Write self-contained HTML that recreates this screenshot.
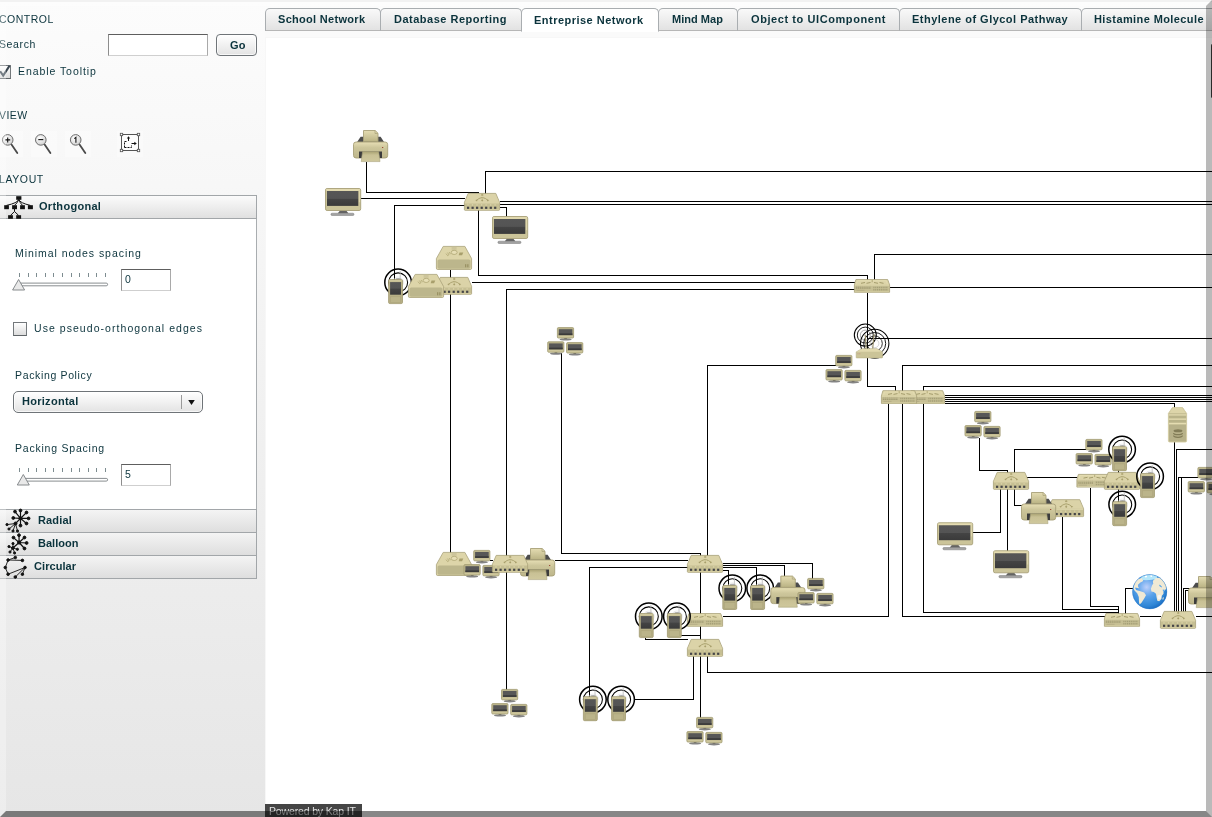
<!DOCTYPE html>
<html><head><meta charset="utf-8"><title>Kap IT Diagrammer</title>
<style>
*{box-sizing:border-box}
html,body{margin:0;padding:0}
body{width:1212px;height:817px;overflow:hidden;position:relative;font-family:"Liberation Sans",sans-serif;font-size:11px;color:#0b333c;background:linear-gradient(#fcfcfc,#e6e6e6)}
.abs{position:absolute}
.t{will-change:transform;position:absolute;white-space:nowrap;line-height:12px;font-size:10.5px;letter-spacing:.9px;color:#0b333c}
.b{font-weight:bold;letter-spacing:.1px;font-size:11px}
#topstrip{left:0;top:0;width:1212px;height:2px;background:#eee}
.inp{position:absolute;background:#fff;border:1px solid #9a9a9a;border-top-color:#5e5e5e;border-bottom-color:#cfcfcf;border-left-color:#8d8d8d;border-right-color:#a9a9a9}
.btn{position:absolute;border:1px solid #6f7478;border-radius:4px;background:linear-gradient(#fff,#e3e3e3);box-shadow:inset 0 0 0 1px rgba(255,255,255,.7)}
.cb{position:absolute;width:14px;height:14px;border:1px solid #73787b;border-bottom-color:#5f6467;background:linear-gradient(#fff,#dcdcdc)}
.hdr{position:absolute;left:-1px;width:258px;height:24px;border:1px solid #a2a6a9;background:linear-gradient(#fbfbfb,#e0e0e0)}
.tab{position:absolute;top:8px;height:23px;border:1px solid #a9adb0;border-bottom-color:#b6b6b6;border-radius:5px 5px 0 0;background:linear-gradient(#f9f9f9,#e2e2e2)}
.tab.sel{background:#fff;border-bottom-color:#fff;height:24px}
</style></head><body>
<div id="topstrip" class="abs"></div>
<!-- sidebar -->
<div class="t" id="tx_control" style="left:-1.10px;top:13.36px;letter-spacing:0.50px;">CONTROL</div>
<div class="t" id="tx_search" style="left:-0.60px;top:38.36px;letter-spacing:0.62px;">Search</div>
<div class="inp" style="left:108px;top:34px;width:100px;height:22px"></div>
<div class="btn" style="left:216px;top:34px;width:41px;height:22px"></div>
<div class="t b" id="tx_go" style="left:230px;top:39px">Go</div>
<div class="cb" style="left:-3px;top:65px"></div>
<svg class="abs" style="left:-3px;top:63px" width="16" height="16" viewBox="0 0 16 16"><path d="M3.2 8.2 L6.2 12.6 L12.6 2.6" fill="none" stroke="#3a4650" stroke-width="2"/></svg>
<div class="t" id="tx_enable" style="left:17.80px;top:65.36px;letter-spacing:0.93px;">Enable Tooltip</div>
<div class="t" id="tx_view" style="left:-1.10px;top:109.36px;letter-spacing:0.45px;">VIEW</div>
<div class="t" id="tx_layout" style="left:-0.60px;top:173.36px;letter-spacing:0.60px;">LAYOUT</div>
<!-- view icons --><div class="abs icobg" style="left:-4px;top:131px;width:27px;height:26px;background:rgba(255,255,255,.35)"></div><div class="abs icobg" style="left:31px;top:131px;width:26px;height:26px;background:rgba(255,255,255,.35)"></div><div class="abs icobg" style="left:65px;top:131px;width:26px;height:26px;background:rgba(255,255,255,.35)"></div><div class="abs icobg" style="left:117px;top:131px;width:26px;height:26px;background:rgba(255,255,255,.35)"></div>
<svg class="abs" style="left:0;top:128px" width="150" height="32" viewBox="0 128 150 32">
 <defs><radialGradient id="lens" cx=".4" cy=".35" r=".7"><stop offset="0" stop-color="#fff"/><stop offset="1" stop-color="#cfcfcf"/></radialGradient></defs>
 <g id="mag"><line x1="11.5" y1="144.5" x2="17.3" y2="153" stroke="#4a4a4a" stroke-width="1.8" stroke-linecap="round"/><circle cx="7.7" cy="139.9" r="5.3" fill="url(#lens)" stroke="#6e6e6e" stroke-width="1"/></g>
 <use href="#mag" x="33.1"/><use href="#mag" x="68"/>
 <path d="M5.2 139.9 H10.2 M7.7 137.4 V142.4" stroke="#111" stroke-width="1.1"/>
 <path d="M38.3 139.6 H43.3" stroke="#111" stroke-width="1.1"/>
 <path d="M74.3 138.6 L75.9 137.3 V142.8" stroke="#111" stroke-width="1.1" fill="none"/>
 <rect x="121.5" y="134.5" width="17" height="16" fill="#fdfdfd" stroke="#555" stroke-width="1"/>
 <g fill="#fff" stroke="#555" stroke-width=".8"><rect x="120.3" y="133.3" width="2.4" height="2.4"/><rect x="137.3" y="133.3" width="2.4" height="2.4"/><rect x="120.3" y="149.3" width="2.4" height="2.4"/><rect x="137.3" y="149.3" width="2.4" height="2.4"/></g>
 <path d="M124.5 147.5 V141.5 H127 M124.5 147.5 H131.5 V145" fill="none" stroke="#111" stroke-width="1" stroke-dasharray="2 1"/>
 <path d="M128.5 141 V137.5 M131.5 143.5 H135" stroke="#111" stroke-width="1"/>
 <path d="M126.8 138.6 L128.5 136.2 L130.2 138.6Z M134.3 141.8 L136.8 143.5 L134.3 145.2Z" fill="#111"/>
</svg>
<!-- accordion -->
<div class="abs" style="left:-1px;top:195px;width:258px;height:384px;background:#fff;border:1px solid #a9adb0"></div>
<div class="hdr" style="top:195px"></div>
<div class="hdr" style="top:509px;background:linear-gradient(#f4f4f4,#dedede)"></div>
<div class="hdr" style="top:532px;background:linear-gradient(#f4f4f4,#dedede)"></div>
<div class="hdr" style="top:555px;background:linear-gradient(#f4f4f4,#dedede)"></div>
<div class="t b" id="tx_ortho" style="left:38.50px;top:200.19px;letter-spacing:0.29px;">Orthogonal</div>
<div class="t b" id="tx_radial" style="left:38.20px;top:514.19px;letter-spacing:0.14px;">Radial</div>
<div class="t b" id="tx_balloon" style="left:38.20px;top:537.19px;letter-spacing:0.03px;">Balloon</div>
<div class="t b" id="tx_circular" style="left:34.30px;top:560.19px;letter-spacing:0.07px;">Circular</div>
<div class="t" id="tx_minimal" style="left:14.90px;top:247.36px;letter-spacing:0.95px;">Minimal nodes spacing</div>
<div class="inp" style="left:121px;top:269px;width:50px;height:22px"></div>
<div class="t" id="tx_zero" style="left:124.90px;top:273.36px;letter-spacing:0.00px;">0</div>
<div class="cb" style="left:13px;top:322px"></div>
<div class="t" id="tx_pseudo" style="left:33.70px;top:322.36px;letter-spacing:1.05px;">Use pseudo-orthogonal edges</div>
<div class="t" id="tx_policy" style="left:14.90px;top:369.36px;letter-spacing:0.65px;">Packing Policy</div>
<div class="btn" style="left:13px;top:391px;width:190px;height:22px;border-radius:5px"></div>
<div class="abs" style="left:181px;top:395px;width:1px;height:14px;background:#9a9a9a"></div>
<svg class="abs" style="left:187px;top:399px" width="9" height="7" viewBox="0 0 9 7"><path d="M1.2 1 H7.8 L4.5 6Z" fill="#111"/></svg>
<div class="t b" id="tx_horiz" style="left:22.30px;top:395.19px;letter-spacing:0.28px;">Horizontal</div>
<div class="t" id="tx_pspacing" style="left:15.10px;top:442.36px;letter-spacing:0.78px;">Packing Spacing</div>
<div class="inp" style="left:121px;top:464px;width:50px;height:22px"></div>
<div class="t" id="tx_five" style="left:124.70px;top:468.36px;letter-spacing:0.00px;">5</div>
<!-- sliders -->
<svg class="abs" style="left:0;top:265px" width="120" height="230" viewBox="0 265 120 230">
 <g stroke="#7d8c90" stroke-width="1" shape-rendering="crispEdges">
  <path d="M19.5 273V277M28.1 273V277M36.7 273V277M45.3 273V277M53.9 273V277M62.5 273V277M71.1 273V277M79.7 273V277M88.3 273V277M96.9 273V277M105.5 273V277"/>
  <path d="M19.5 468V472M28.1 468V472M36.7 468V472M45.3 468V472M53.9 468V472M62.5 468V472M71.1 468V472M79.7 468V472M88.3 468V472M96.9 468V472M105.5 468V472"/>
 </g>
 <rect x="19" y="283.1" width="88.6" height="2.7" rx="1.35" fill="#fff" stroke="#6a7073" stroke-width=".8"/>
 <rect x="24" y="478.4" width="83.6" height="2.7" rx="1.35" fill="#fff" stroke="#6a7073" stroke-width=".8"/>
 <path d="M18.6 279.5 L24.6 290 H12.6Z" fill="#e9e9e9" stroke="#7a7f82" stroke-width=".9" stroke-linejoin="round"/>
 <path d="M23.3 474.5 L29.3 485 H17.3Z" fill="#e9e9e9" stroke="#7a7f82" stroke-width=".9" stroke-linejoin="round"/>
</svg>
<svg class="abs" style="left:0;top:194px;z-index:3" width="40" height="390" viewBox="0 194 40 390">
 <g fill="#111" stroke="none">
  <rect x="16.2" y="196.2" width="5.2" height="3.6"/>
  <rect x="4.2" y="205.2" width="4.7" height="4"/><rect x="12.1" y="205.2" width="4.9" height="4"/><rect x="20.1" y="205.2" width="4.8" height="4"/><rect x="27.9" y="205.2" width="5" height="4"/>
  <rect x="8.1" y="215.2" width="4.8" height="3.6"/><rect x="16.2" y="215.2" width="4.9" height="3.6"/>
 </g>
 <g fill="none" stroke="#111" stroke-width="1">
  <path d="M18.8 199.5 Q17.5 203 6.5 205.4 M18.8 199.5 Q17.5 203 14.5 205.4 M18.8 199.5 Q20 203 22.5 205.4 M18.8 199.5 Q20 203 30.4 205.4"/>
  <path d="M14.5 209 V211.5 L10.5 215.4 M14.5 211.5 L18.6 215.4"/>
 </g>
 <!-- radial -->
 <g stroke="#111" stroke-width="1" fill="#111">
  <path d="M20.5 518.4 L20.5 510.5 M20.5 518.4 L26.5 512.5 M20.5 518.4 L28.6 518.4 M20.5 518.4 L26.5 523.5 M20.5 518.4 L20.5 525.6 M20.5 518.4 L15.5 523.5 M20.5 518.4 L13.3 518 M20.5 518.4 L15 511.6" stroke-width="1.2"/>
  <path d="M15.5 523.5 L7 524.6 M15.5 523.5 L9 529 M15.5 523.5 L13 531 M15.5 523.5 L17.5 531" stroke-width=".9"/>
  <circle cx="20.5" cy="510.5" r="1.4"/><circle cx="26.5" cy="512.5" r="1.4"/><circle cx="28.6" cy="518.4" r="1.4"/><circle cx="26.5" cy="523.5" r="1.4"/><circle cx="20.5" cy="525.6" r="1.4"/><circle cx="15.5" cy="523.5" r="1.5"/><circle cx="13.3" cy="518" r="1.4"/><circle cx="15" cy="511.6" r="1.4"/><circle cx="20.5" cy="518.4" r="1.6"/>
  <circle cx="7" cy="524.6" r="1.1"/><circle cx="9" cy="529" r="1.1"/><circle cx="13" cy="531" r="1.1"/><circle cx="17.5" cy="531" r="1.1"/>
 </g>
 <!-- balloon -->
 <g stroke="#111" stroke-width="1" fill="#111">
  <path d="M19.1 542.5 L19 535.2 M19.1 542.5 L24.5 537.5 M19.1 542.5 L26.6 543 M19.1 542.5 L24.5 548.5 M19.1 542.5 L12.9 548 M19.1 542.5 L13.5 537.6" stroke-width="1.2"/>
  <path d="M12.9 548 L9 546.6 M12.9 548 L10 552 M12.9 548 L14.6 553 M12.9 548 L17.4 549.3 M12.9 548 L13 543.6" stroke-width=".9"/>
  <circle cx="19" cy="535.2" r="1.4"/><circle cx="24.5" cy="537.5" r="1.4"/><circle cx="26.6" cy="543" r="1.4"/><circle cx="24.5" cy="548.5" r="1.4"/><circle cx="13.5" cy="537.6" r="1.4"/><circle cx="19.1" cy="542.5" r="1.6"/><circle cx="12.9" cy="548" r="1.4"/>
  <circle cx="9" cy="546.6" r="1.1"/><circle cx="10" cy="552" r="1.1"/><circle cx="14.6" cy="553" r="1.1"/><circle cx="17.4" cy="549.3" r="1.1"/><circle cx="13" cy="543.6" r="1.1"/>
 </g>
 <!-- circular -->
 <g stroke="#111" stroke-width="1" fill="#111">
  <path d="M8.1 560 L15.3 557.5 M8.1 560 L22.4 560.4 M8.1 560 L5.3 567.5 L8.1 574.2 L25 567.5 L15.3 577 M25 567.5 L22.4 574.2" fill="none" stroke-width=".9"/>
  <circle cx="15.3" cy="557.5" r="1.3"/><circle cx="8.1" cy="560" r="1.3"/><circle cx="22.4" cy="560.4" r="1.3"/><circle cx="5.3" cy="567.5" r="1.3"/><circle cx="25" cy="567.5" r="1.3"/><circle cx="8.1" cy="574.2" r="1.3"/><circle cx="22.4" cy="574.2" r="1.3"/><circle cx="15.3" cy="577" r="1.3"/>
 </g>
</svg>
<!-- tabs -->
<div class="abs" style="left:265px;top:31px;width:947px;height:7px;background:#fafafa"></div>
<div class="abs" id="main" style="left:265px;top:37px;width:947px;height:780px;background:#fff;border-left:1px solid #f7f7f7;border-top:1px solid #f7f7f7"></div>
<div class="tab" style="left:265px;width:116px"></div>
<div class="tab" style="left:380px;width:142px"></div>
<div class="tab sel" style="left:521px;width:138px"></div>
<div class="tab" style="left:658px;width:80px"></div>
<div class="tab" style="left:737px;width:163px"></div>
<div class="tab" style="left:899px;width:183px"></div>
<div class="tab" style="left:1081px;width:140px"></div>
<div class="t b" id="tb1" style="left:278.40px;top:13.19px;letter-spacing:0.30px;">School Network</div>
<div class="t b" id="tb2" style="left:394.10px;top:13.19px;letter-spacing:0.50px;">Database Reporting</div>
<div class="t b" id="tb3" style="left:534.40px;top:14.19px;letter-spacing:0.48px;">Entreprise Network</div>
<div class="t b" id="tb4" style="left:671.70px;top:13.19px;letter-spacing:0.03px;">Mind Map</div>
<div class="t b" id="tb5" style="left:751.00px;top:13.19px;letter-spacing:0.58px;">Object to UIComponent</div>
<div class="t b" id="tb6" style="left:912.40px;top:13.19px;letter-spacing:0.48px;">Ethylene of Glycol Pathway</div>
<div class="t b" id="tb7" style="left:1094.40px;top:13.19px;letter-spacing:0.40px;">Histamine Molecule</div>
<!-- diagram -->
<svg class="abs" style="left:266px;top:38px" width="946" height="779" viewBox="266 38 946 779">

<defs>
 <linearGradient id="gB" x1="0" y1="0" x2="0" y2="1"><stop offset="0" stop-color="#e7dfb5"/><stop offset=".35" stop-color="#cdc69b"/><stop offset="1" stop-color="#bdb68b"/></linearGradient>
 <linearGradient id="gP" x1="0" y1="0" x2="0" y2="1"><stop offset="0" stop-color="#e4dcb2"/><stop offset="1" stop-color="#b9b283"/></linearGradient>
 <linearGradient id="gP2" x1="0" y1="0" x2="0" y2="1"><stop offset="0" stop-color="#a9a272"/><stop offset=".35" stop-color="#c9c195"/><stop offset="1" stop-color="#cfc89d"/></linearGradient>
 <linearGradient id="gS" x1="0" y1="0" x2="0" y2="1"><stop offset="0" stop-color="#565656"/><stop offset=".5" stop-color="#545454"/><stop offset=".52" stop-color="#444"/><stop offset="1" stop-color="#3a3a3a"/></linearGradient>
 <radialGradient id="gG" cx=".41" cy=".37" r=".68"><stop offset="0" stop-color="#bdd0fb"/><stop offset=".4" stop-color="#5aa2ea"/><stop offset=".8" stop-color="#2f86d6"/><stop offset="1" stop-color="#1666bd"/></radialGradient>
 <clipPath id="gc"><circle cx="17.5" cy="17.5" r="17.3"/></clipPath>

 <g id="mon">
  <rect x="5.9" y="25.2" width="23.1" height="2.3" rx="1.1" fill="#a2a2a2" stroke="#7a7a7a" stroke-width=".5"/>
  <path d="M12.8 25.2 L15 22.4 H21.2 L23.4 25.2Z" fill="#636363"/>
  <rect x="0.5" y="0.5" width="35.2" height="22" rx="1.6" fill="#cbc499" stroke="#a8a078" stroke-width=".9"/>
  <rect x="1.2" y="1.1" width="33.8" height="1.7" fill="#e5dcb2"/>
  <rect x="33.8" y="1.2" width="1.3" height="13" fill="#ded6ab"/>
  <rect x="2" y="3" width="31.3" height="14.9" fill="url(#gS)"/>
 </g>

 <g id="prn">
  <path d="M3.8 12.6 L7.6 6.8 H27.6 L31.4 12.6Z" fill="#4c4c4c"/>
  <path d="M10.5 0.5 H22.2 L25 3.3 V11.8 H10.5Z" fill="url(#gP)" stroke="#a8a078" stroke-width=".9"/>
  <path d="M22 0.8 V3.5 H24.8" fill="none" stroke="#a8a078" stroke-width=".7"/>
  <rect x="0.5" y="12" width="34.2" height="16" rx="2.6" fill="url(#gB)" stroke="#a8a078" stroke-width=".9"/>
  <path d="M6 21.5 H29 V28 H6Z" fill="#3c3c3c"/>
  <path d="M9.6 21.5 H25.7 L27 31.6 H8.2Z" fill="url(#gP2)" stroke="#aaa27a" stroke-width=".6"/>
  <rect x="29" y="17" width="1.3" height="1" fill="#9c4a3a"/><rect x="30.8" y="17" width="1.6" height="1" fill="#d6d3a4"/>
 </g>

 <g id="sw8">
  <path d="M0.4 9.4 L4.2 0.4 H31.8 L35.6 9.4 V16.6 Q35.6 17.3 34.9 17.3 H1.1 Q0.4 17.3 0.4 16.6Z" fill="#c6bf93" stroke="#aaa27a" stroke-width=".8"/>
  <path d="M0.9 9.3 L4.5 0.9 H31.5 L35.1 9.3Z" fill="#dbd3a8"/>
  <rect x="0.9" y="9.3" width="34.2" height="1.1" fill="#e2daaf"/>
  <rect x="0.9" y="16.2" width="34.2" height=".8" fill="#d9d1a6"/>
  <g fill="#454548"><rect x="3" y="13.7" width="2.2" height="2.2"/><rect x="7.5" y="13.7" width="2.2" height="2.2"/><rect x="12" y="13.7" width="2.2" height="2.2"/><rect x="16.6" y="13.7" width="2.2" height="2.2"/><rect x="21.1" y="13.7" width="2.2" height="2.2"/><rect x="25.7" y="13.7" width="2.2" height="2.2"/><rect x="30.1" y="13.7" width="2.2" height="2.2"/></g>
  <g fill="#dcd4aa"><rect x="3.4" y="11.2" width="1.2" height="1.4"/><rect x="7.9" y="11.2" width="1.2" height="1.4"/><rect x="12.4" y="11.2" width="1.2" height="1.4"/><rect x="17" y="11.2" width="1.2" height="1.4"/><rect x="21.5" y="11.2" width="1.2" height="1.4"/><rect x="26.1" y="11.2" width="1.2" height="1.4"/><rect x="30.5" y="11.2" width="1.2" height="1.4"/></g>
  <path d="M12.2 7.6 Q14.5 5.2 18.2 4.4 Q22 5.2 24.2 7.6 M18.2 0.8 V2.8 M17 2 H19.4" fill="none" stroke="#a89f6c" stroke-width=".9"/><path d="M18.2 4.4 V7" stroke="#bdb583" stroke-width=".8"/>
  <path d="M11.2 7 L13.6 6.6 L13 8.4Z M25.2 7 L22.8 6.6 L23.4 8.4Z M17 7.4 L18.2 8.6 L19.4 7.4 L18.2 6.4Z" fill="#a89f6c"/>
 </g>

 <g id="swf">
  <path d="M0.4 5.6 L1.9 0.4 H33.7 L35.6 5.6 V13.1 H0.4Z" fill="#c6bf94" stroke="#aaa27a" stroke-width=".8"/>
  <path d="M0.9 5.5 L2.3 0.9 H33.3 L35.1 5.5Z" fill="#dcd4a9"/>
  <path d="M2.6 4.9 L3.4 1.6 H32.2 L33.4 4.9" fill="none" stroke="#e8e0b6" stroke-width=".6"/>
  <rect x="0.9" y="5.5" width="34.2" height=".9" fill="#e2daaf"/>
  <rect x="0.9" y="12.2" width="34.2" height=".7" fill="#d9d1a6"/>
  <path d="M1.8 8.9 H17" stroke="#a29c74" stroke-width="1.5" stroke-dasharray="1.4 .5"/>
  <path d="M2 7.2 H16.6" stroke="#b7b088" stroke-width=".8" stroke-dasharray="1.2 .7"/>
  <rect x="2.5" y="10.6" width="8" height="1.1" fill="#b7b088"/>
  <path d="M19.3 8.2 H34 M19.3 10.6 H34" stroke="#a59f77" stroke-width="1.5" stroke-dasharray="1.2 .65"/>
  <path d="M18.2 0.8 V3" stroke="#a89f6c" stroke-width=".8" fill="none"/>
  <path d="M7 4.1 L11 3.3 M12.5 4.1 L16.5 3.3 M20 3.3 L24 4.1 M25.5 3.3 L29.5 4.1" stroke="#9d9564" stroke-width=".9" fill="none"/>
 </g>

 <g id="rtr">
  <path d="M0.4 12.6 L7.2 0.4 H28.9 L35.6 12.6 V22.2 Q35.6 23.5 34.3 23.5 H1.7 Q0.4 23.5 0.4 22.2Z" fill="#ddd5a9" stroke="#aaa27a" stroke-width=".8"/>
  <rect x="1.5" y="13.4" width="33" height="9.3" rx="1.6" fill="#bcb68c"/>
  <rect x="15.6" y="0.8" width="5" height="3" fill="#cdc59b"/>
  <ellipse cx="18.2" cy="6.4" rx="3" ry="2.1" fill="#e6deb5" stroke="#a89f6c" stroke-width=".7"/>
  <path d="M10 7.6 l1.6 2 l1.4 -1 l-1.6 -2 M13 6 l1.6 2.2" stroke="#a89f6c" stroke-width=".7" fill="none"/>
  <path d="M23.5 6.6 h3.8 l-1.2 2.6 h-3.4Z" fill="#a89f6c"/>
  <rect x="29" y="18.2" width="1.3" height="3.1" fill="#9a9264"/><rect x="31.2" y="18.2" width="1.3" height="3.1" fill="#9a9264"/>
 </g>

 <g id="pdaC" fill="none" stroke="#000">
  <circle cx="9.9" cy="3.1" r="13.3" stroke-width="1.5"/>
  <circle cx="9.9" cy="3.1" r="9.5" stroke-width="1.05"/>
 </g>
 <g id="pdaB">
  <line x1="12" y1="-8.6" x2="12" y2="0.2" stroke="#b8b8b8" stroke-width=".8"/>
  <ellipse cx="10.2" cy="-0.4" rx="3" ry="1" fill="#adadad"/>
  <circle cx="9.9" cy="3.1" r="5.4" fill="none" stroke="#d4d4d4" stroke-width=".5"/>
  <rect x="0.4" y="0.3" width="13.9" height="24" rx="1.3" fill="#b7b086" stroke="#a19970" stroke-width=".8"/>
  <rect x="0.9" y="0.9" width="12.9" height="1.4" fill="#d4cca1"/>
  <rect x="1.9" y="2.8" width="10.9" height="12.6" fill="url(#gS)"/>
  <rect x="2.1" y="17.5" width="10.5" height="5.8" fill="#bbb48a" stroke="#a9a178" stroke-width=".5"/>
 </g>

 <g id="pc">
  <ellipse cx="8.6" cy="12.2" rx="6" ry="1.2" fill="#848484"/>
  <rect x="7.3" y="10.6" width="2.6" height="1.2" fill="#666"/>
  <rect x="0.4" y="0.4" width="16.2" height="10.4" rx="1" fill="#bdb68c" stroke="#a09970" stroke-width=".8"/>
  <rect x="1" y="8.4" width="15" height="1.8" fill="#cdc69b"/>
  <rect x="1.8" y="2" width="13.6" height="5.9" fill="#575757"/><rect x="1.8" y="6.2" width="13.6" height="1.7" fill="#3a3a3a"/>
 </g>
 <g id="clu">
  <use href="#pc" x="10" y="0"/><use href="#pc" x="0.3" y="14.2"/><use href="#pc" x="19.2" y="15"/>
 </g>

 <g id="srv">
  <path d="M0.4 6.2 L4.4 0.4 H14.6 L18.6 6.2 V33.6 Q18.6 34.8 17.4 34.8 H1.6 Q0.4 34.8 0.4 33.6Z" fill="#b7b189" stroke="#d5cda3" stroke-width=".9"/>
  <path d="M0.8 6.2 L4.6 0.8 H14.4 L18.2 6.2Z" fill="#ddd5a9"/>
  <rect x="0.9" y="6.2" width="17.2" height="11" fill="#c5be93"/>
  <rect x="0.9" y="7.2" width="17.2" height="1.2" fill="#e5ddb2"/><rect x="0.9" y="11.2" width="17.2" height="1.3" fill="#e5ddb2"/><rect x="0.9" y="15.6" width="17.2" height="1.5" fill="#e5ddb2"/>
  <rect x="0.9" y="8.6" width="17.2" height="2.4" fill="#b9b389"/><rect x="0.9" y="12.8" width="17.2" height="2.4" fill="#b9b389"/>
  <ellipse cx="10" cy="23.6" rx="4.4" ry="1.5" fill="#827c57"/>
  <path d="M5.6 25.8 a4.4 1.7 0 0 0 8.8 0 M5.6 28.4 a4.4 1.7 0 0 0 8.8 0" fill="none" stroke="#827c57" stroke-width="1.2"/>
 </g>

 <g id="glb">
  <circle cx="17.5" cy="17.5" r="17.3" fill="url(#gG)"/>
  <g clip-path="url(#gc)">
   <path d="M8.5 4.6 L10 1.6 Q17.5 -0.6 25 1.8 L24.6 4.6 Q20 6.2 11 5.9Z" fill="#b4e6fa"/>
   <path d="M12.4 2.4 L14 1 L15 2.6 L13.6 3.6Z M18 1.6 L19.4 0.6 L20 2.6 L18.6 2.8Z" fill="#fff"/>
   <g fill="#f0e9d4">
   <path d="M1.7 12 L2.8 8.2 L5.5 5 L9.3 3.9 L11.1 6 L10.3 7.4 L8.2 8.2 L6 10.3 L5.8 12 L6.8 14.1 L4.4 13.6 L2.8 13.6 L3.3 14.6 L3.9 15.7 L8.2 17.1 L12 18.4 L13.8 21.1 L12 24.3 L9.3 28.6 L7.4 30.3 L6.8 28.1 L6.6 22.7 L5 19 L2.3 16.3 L1.2 14.1Z"/>
   <path d="M21.1 6 L23.8 3.9 L28.1 3.3 L31.3 6 L33.5 9.8 L34.6 13.6 L33 15.7 L31.3 17.3 L31.3 19.5 L29.7 21.6 L29.2 24.9 L27 27 L25.1 26.5 L24.3 22.7 L23.8 19.5 L21.6 17.9 L19.2 17.3 L18.7 14.6 L19.8 11.4 L21.1 9.3 L20.6 7.6Z"/>
   <path d="M30.3 23.8 L31.6 22.7 L31.3 25.1 L30.5 25.7Z"/>
   </g>
   <path d="M26.8 10.6 L28 10.8 L29.8 12.6 L29.4 13.2 L27.4 12Z M30.4 15.6 L32.2 15.4 L32.4 17 L31 17.2Z" fill="#5aa6ea"/>
  </g>
  <ellipse cx="27" cy="22.8" rx="1.9" ry="2.3" fill="#f7f6f4" opacity=".9"/>
  <circle cx="17.5" cy="17.5" r="17.1" fill="none" stroke="#2a78c8" stroke-width=".6" opacity=".7"/>
 </g>

 <g id="ap">
  <g fill="none" stroke="#000">
   <circle cx="9.5" cy="-13.2" r="11" stroke-width="1.05"/><circle cx="9.5" cy="-13.2" r="8" stroke-width=".9"/><circle cx="9.5" cy="-13.2" r="5" stroke-width=".6" stroke="#777"/>
   <circle cx="18.9" cy="-4.8" r="14.2" stroke-width="1.05"/><circle cx="18.9" cy="-4.8" r="11" stroke-width=".9"/><circle cx="18.9" cy="-4.8" r="7.6" stroke-width=".8"/><circle cx="18.9" cy="-4.8" r="4.2" stroke-width=".6" stroke="#bbb"/>
  </g>
  <path d="M10.4 0.4 L9.4 -13.6 M16.9 0.4 L18.3 -14.6" stroke="#958d66" stroke-width="1.1" fill="none"/>
  <ellipse cx="19" cy="9.8" rx="4.5" ry=".8" fill="#555"/>
  <path d="M0.4 3.6 L6 0.4 H21.2 L26.7 3.6 V9.2 Q26.7 9.6 26.2 9.6 H0.9 Q0.4 9.6 0.4 9.2Z" fill="#cbc498" stroke="#b5ae86" stroke-width=".6"/>
  <path d="M0.8 3.5 L6.1 0.7 H21.1 L26.3 3.5Z" fill="#e1d9ae"/>
  <rect x="1.7" y="5" width="1" height="1" fill="#c49a84"/><rect x="3.5" y="5" width="1" height="1" fill="#c49a84"/>
 </g>
</defs>

<g fill="none" stroke="#000" stroke-width="1" shape-rendering="crispEdges">
<path d="M366.5 162V192.5H479M361 198.5H464.5M394.5 279.5V205.5H464.5M485.5 193.5V171.5H1212M499.5 201.5H1212M499.5 204.5H1212M499.5 207.5H506.5V216.5M478.5 210V275.5H867.5V279.5M450.5 269.5V277.5M471.5 282.5H854.5M450.5 293.5V552.5M854.5 289.5H506.5V555.5M506.5 571.5V689.5M874.5 279.5V254.5H1212M889.5 287.5H1212M867.5 292.5V349M867.5 338.5H1212M867.5 357.5V386.5H895.5V390.5M561.5 353V553.5H700.5V555.5M836 365.5H707.5V555.5M902.5 390.5V365.5H1212M923.5 390.5V386.5H1212M944.5 395.5H1212M944.5 397.5H1212M944.5 399.5H1212M944.5 401.5H1212M944.5 403.5H1174.5V407.5M888.5 403.5V616.5H722.5M902.5 403.5V616.5H1104.5M923.5 403.5V612.5H1118.5M979.5 438V470.5H1007.5V472.5M1014.5 472.5V449.5H1086M1027 477.5H1077M1000.5 488.5V532.5H972.5M1007.5 488.5V550.5M1014.5 488.5V505.5H1022M1062.5 516.5V609.5H1118.5M1090.5 487.5V606.5H1118.5V613.5M1118.5 470V472.5M1118.5 488.5V502M1174.5 442V611.5M1176.5 611.5V449.5H1212M1178.5 611.5V477.5H1198M1181.5 611.5V477.5M1183.5 611.5V588.5H1190M1185.5 611.5V590.5H1190M1133 588.5H1125.5V613.5M1139.5 616.5H1160.5M1195.5 616.5H1212M555 560.5H687.5M687.5 567.5H589.5V697.5M722.5 563.5H812.5V578.5M722.5 565.5H784.5V576.5M722.5 567.5H756.5V586M722.5 570.5H728.5V586M700.5 571.5V639.5M681 635.5H700.5M645.5 637.5V639.5H687.5M693.5 655.5V699.5H635M700.5 655.5V717.5M707.5 655.5V672.5H1212M490 560.5H492.5"/>
</g>
<use href="#prn" x="353" y="130"/>
<use href="#mon" x="325" y="188"/>
<use href="#sw8" x="464" y="193"/>
<use href="#mon" x="492" y="216"/>
<use href="#rtr" x="436" y="246"/>
<use href="#sw8" x="436" y="277"/>
<use href="#pdaC" x="388.2" y="279.3"/>
<use href="#pdaB" x="388.2" y="279.3"/>
<use href="#rtr" x="408" y="274"/>
<use href="#swf" x="854" y="279.2"/>
<use href="#clu" x="547" y="327.2"/>
<use href="#clu" x="825.3" y="355"/>
<use href="#ap" x="855.8" y="348.3"/>
<use href="#swf" x="909" y="390.3"/>
<use href="#swf" x="881" y="390.3"/>
<use href="#clu" x="964.3" y="411"/>
<use href="#srv" x="1168" y="407.2"/>
<use href="#sw8" x="993" y="472"/>
<use href="#clu" x="1075.4" y="439"/>
<use href="#pdaC" x="1112.2" y="446.4"/>
<use href="#pdaB" x="1112.2" y="446.4"/>
<use href="#swf" x="1076.5" y="474"/>
<use href="#sw8" x="1104" y="472"/>
<use href="#pdaC" x="1140.2" y="473.3"/>
<use href="#pdaB" x="1140.2" y="473.3"/>
<use href="#sw8" x="1048" y="499.3"/>
<use href="#prn" x="1021" y="492"/>
<use href="#pdaC" x="1112.3" y="501.4"/>
<use href="#pdaB" x="1112.3" y="501.4"/>
<use href="#mon" x="937" y="522.3"/>
<use href="#mon" x="993" y="550.3"/>
<use href="#clu" x="1187.5" y="467"/>
<use href="#glb" x="1132.2" y="574.2"/>
<use href="#prn" x="1188" y="576"/>
<use href="#swf" x="1104" y="613.2"/>
<use href="#sw8" x="1160" y="611"/>
<use href="#rtr" x="436" y="552"/>
<use href="#clu" x="463.3" y="550"/>
<use href="#prn" x="520" y="548"/>
<use href="#sw8" x="492" y="555"/>
<use href="#sw8" x="687" y="555"/>
<use href="#pdaC" x="722.4" y="585.2"/>
<use href="#pdaB" x="722.4" y="585.2"/>
<use href="#pdaC" x="750.3" y="585.2"/>
<use href="#pdaB" x="750.3" y="585.2"/>
<use href="#prn" x="770.3" y="575.6"/>
<use href="#clu" x="797.25" y="578"/>
<use href="#swf" x="687" y="613.2"/>
<use href="#pdaC" x="638.9" y="613.3"/>
<use href="#pdaB" x="638.9" y="613.3"/>
<use href="#pdaC" x="667" y="613.3"/>
<use href="#pdaB" x="667" y="613.3"/>
<use href="#sw8" x="687" y="639"/>
<use href="#clu" x="491.1" y="689"/>
<use href="#pdaC" x="583" y="696.4"/>
<use href="#pdaB" x="583" y="696.4"/>
<use href="#pdaC" x="611.2" y="696.4"/>
<use href="#pdaB" x="611.2" y="696.4"/>
<use href="#clu" x="686.2" y="717"/>
</svg>
<div class="abs" style="left:265px;top:804px;width:97px;height:13px;background:#454545"></div>
<div class="t" id="tx_powered" style="left:269.20px;top:805.36px;letter-spacing:-0.15px;color:#e4e4e4;font-size:10.5px">Powered by Kap IT</div>
<div class="abs" id="scrollthumb" style="left:1210.5px;top:44px;width:3px;height:54px;background:#3a3a3a;border-radius:1.5px 0 0 1.5px"></div>
<div class="abs" id="bevel" style="left:0;top:0;width:1212px;height:817px;border-style:solid;border-width:6px;border-color:rgba(255,255,255,.26) rgba(0,0,0,.27) rgba(0,0,0,.47) rgba(255,255,255,.3)"></div>
</body></html>
